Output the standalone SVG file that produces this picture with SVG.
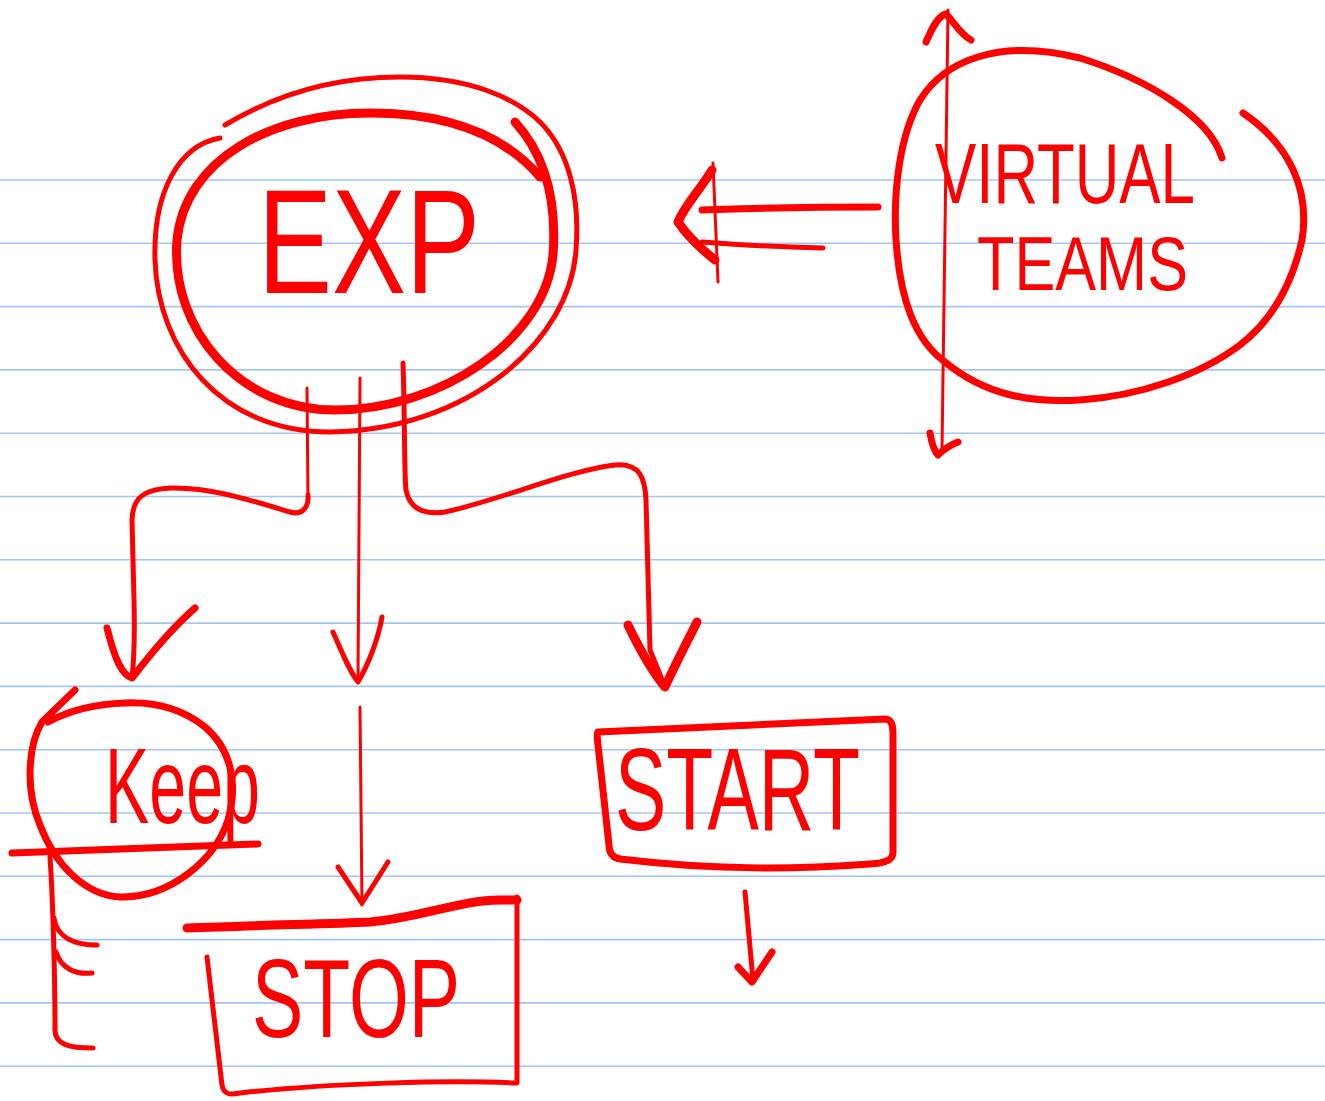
<svg xmlns="http://www.w3.org/2000/svg" width="1325" height="1101" viewBox="0 0 1325 1101">
  <style>
    .rule { stroke: #a3c6f2; stroke-width: 1.6; }
    .ink { fill: none; stroke: #ff0000; stroke-linecap: round; stroke-linejoin: round; }
    .thin { stroke-width: 3; }
    .mid { stroke-width: 5; }
    .thick { stroke-width: 7; }
    .heavy { stroke-width: 9; }
    .label { fill: #ff0000; font-family: "Liberation Sans", Arial, sans-serif; }
  </style>

  <rect x="0" y="0" width="1325" height="1101" fill="#ffffff"/>

  <!-- ruled notebook paper -->
  <g id="paper">
    <line class="rule" x1="0" y1="180" x2="1325" y2="180"/>
    <line class="rule" x1="0" y1="243.3" x2="1325" y2="243.3"/>
    <line class="rule" x1="0" y1="306.6" x2="1325" y2="306.6"/>
    <line class="rule" x1="0" y1="369.9" x2="1325" y2="369.9"/>
    <line class="rule" x1="0" y1="433.2" x2="1325" y2="433.2"/>
    <line class="rule" x1="0" y1="496.5" x2="1325" y2="496.5"/>
    <line class="rule" x1="0" y1="559.8" x2="1325" y2="559.8"/>
    <line class="rule" x1="0" y1="623.1" x2="1325" y2="623.1"/>
    <line class="rule" x1="0" y1="686.4" x2="1325" y2="686.4"/>
    <line class="rule" x1="0" y1="749.7" x2="1325" y2="749.7"/>
    <line class="rule" x1="0" y1="813" x2="1325" y2="813"/>
    <line class="rule" x1="0" y1="876.3" x2="1325" y2="876.3"/>
    <line class="rule" x1="0" y1="939.6" x2="1325" y2="939.6"/>
    <line class="rule" x1="0" y1="1002.9" x2="1325" y2="1002.9"/>
    <line class="rule" x1="0" y1="1066.2" x2="1325" y2="1066.2"/>
  </g>

  <!-- EXP: double hand-drawn ellipse -->
  <g id="node-exp">
    <path class="ink heavy" d="M540,177 C500,130 440,113 370,113 C270,113 185,160 177,240 C170,330 240,410 335,410 C440,410 545,340 553,255 C557,200 545,155 515,122"/>
    <path class="ink mid" d="M225,125 C280,92 340,77 400,77 C470,77 515,98 540,122 C570,152 580,200 576,250 C570,340 470,430 330,432 C220,432 158,350 155,260 C153,190 180,145 220,138"/>
    <text class="label" x="258" y="293" font-size="148" textLength="222" lengthAdjust="spacingAndGlyphs">EXP</text>
  </g>

  <!-- VIRTUAL TEAMS: open loop -->
  <g id="node-virtual-teams">
    <path class="ink thick" d="M1222,158 C1210,118 1150,80 1080,58 C1000,38 945,60 920,100 C900,135 893,190 896,240 C900,300 915,340 945,362 C985,395 1030,403 1080,400 C1140,396 1200,375 1240,345 C1275,318 1293,280 1302,240 C1310,190 1290,145 1243,113"/>
    <text class="label" x="935" y="203" font-size="86" textLength="260" lengthAdjust="spacingAndGlyphs">VIRTUAL</text>
    <text class="label" x="977" y="290" font-size="76" textLength="211" lengthAdjust="spacingAndGlyphs">TEAMS</text>
  </g>

  <!-- Keep: circled, struck through, with a bracket below -->
  <g id="node-keep">
    <path class="ink thick" d="M75,690 L42,722 C28,745 25,790 40,825 C55,865 85,895 120,897 C170,898 215,860 228,820 C238,785 232,750 205,727 C180,707 150,702 125,703 C95,704 70,710 48,722"/>
    <text class="label" x="105" y="823" font-size="108" textLength="155" lengthAdjust="spacingAndGlyphs">Keep</text>
    <path class="ink thick" d="M12,853 L258,844"/>
    <path class="ink mid" d="M50,857 C53,900 55,980 55,1030 C55,1045 70,1048 93,1048"/>
    <path class="ink mid" d="M54,918 C57,938 75,945 97,945"/>
    <path class="ink mid" d="M56,952 C61,968 75,975 92,973"/>
  </g>

  <!-- STOP box -->
  <g id="node-stop">
    <path class="ink heavy" d="M187,928 C260,925 330,924 370,922 C420,918 460,900 500,900 L517,900"/>
    <path class="ink mid" d="M207,957 L222,1085 C224,1095 230,1095 240,1093 C330,1083 450,1080 517,1083 L517,897"/>
    <text class="label" x="252" y="1037" font-size="112" textLength="208" lengthAdjust="spacingAndGlyphs">STOP</text>
  </g>

  <!-- START box -->
  <g id="node-start">
    <path class="ink thick" d="M598,732 C700,727 800,722 885,719 C892,719 893,726 893,735 L893,852 C893,860 886,863 870,864 C800,869 720,871 620,859 C612,858 609,852 609,845 L598,745 C597,737 597,732 598,732"/>
    <text class="label" x="615" y="830" font-size="116" textLength="245" lengthAdjust="spacingAndGlyphs">START</text>
  </g>

  <!-- connectors -->
  <g id="connectors">
    <!-- EXP to Keep -->
    <path class="ink thin" d="M307,388 L308,500"/>
    <path class="ink mid" d="M308,495 C309,510 300,515 290,512 C250,500 210,487 170,488 C140,490 133,500 132,520 L134,600 C135,640 134,660 132,678"/>
    <path class="ink thick" d="M107,628 C115,660 122,675 132,678 C150,655 170,630 195,608"/>

    <!-- EXP to Stop (upper segment) -->
    <path class="ink thin" d="M360,378 L358,682"/>
    <path class="ink mid" d="M333,632 C343,655 350,672 358,682 C368,665 378,640 382,617"/>

    <!-- EXP to Start -->
    <path class="ink mid" d="M403,363 C405,420 404,470 406,490 C410,510 425,515 445,512 C500,500 570,470 615,465 C640,463 645,478 646,500 L650,650 L665,687"/>
    <path class="ink heavy" d="M628,625 C640,650 655,675 665,687 C675,665 688,640 697,622"/>

    <!-- down into Stop -->
    <path class="ink thin" d="M360,707 L362,905"/>
    <path class="ink mid" d="M338,867 L362,903 L388,862"/>

    <!-- out of Start -->
    <path class="ink mid" d="M745,892 L753,980"/>
    <path class="ink thick" d="M738,967 L752,982 L772,952"/>

    <!-- Virtual Teams to EXP (double arrow) -->
    <path class="ink thick" d="M878,207 C820,207 760,208 702,210"/>
    <path class="ink mid" d="M823,248 C780,247 740,245 702,242"/>
    <path class="ink heavy" d="M712,170 C700,190 685,205 678,222 C690,240 705,252 715,260"/>
    <path class="ink thin" d="M713,163 L718,282"/>

    <!-- vertical two-headed axis -->
    <path class="ink thin" d="M948,10 L942,450"/>
    <path class="ink thick" d="M926,42 C932,28 938,16 946,14 C954,22 960,34 971,40"/>
    <path class="ink thick" d="M930,433 C932,445 935,452 938,455 C945,448 950,445 958,442"/>
  </g>
</svg>
